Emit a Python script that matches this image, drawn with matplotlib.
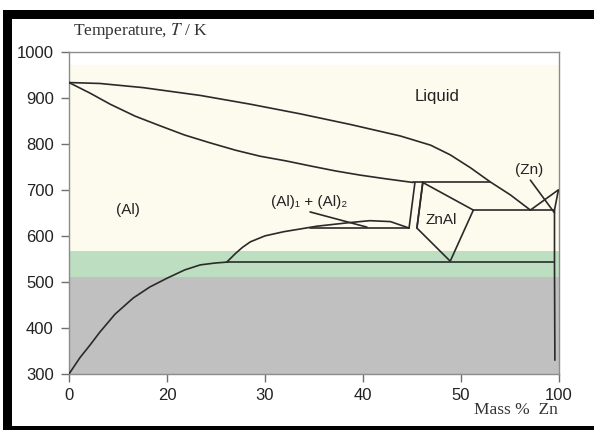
import numpy as np
import matplotlib
matplotlib.use("Agg")
import matplotlib.pyplot as plt
from matplotlib.patches import Rectangle

# ---- data (x in labelled "Mass % Zn" units, y in K) ----
tick_labels = [0, 20, 30, 40, 50, 100]
y_ticks = [300, 400, 500, 600, 700, 800, 900, 1000]

liq_x = [0, 6.3, 15.1, 23.4, 28.5, 33.6, 38.7, 43.8, 46.9, 48.9, 54.8, 65.0, 75.2, 85.4]
liq_y = [933, 931, 922, 905, 886, 865, 842, 817, 797, 776, 748, 717, 689, 656]

sol_x = [0, 4.3, 8.4, 13.5, 18.6, 21.8, 24.4, 27.0, 29.5, 32.1, 34.6, 37.2, 39.7, 42.3, 45.1]
sol_y = [933, 910, 886, 860, 839, 819, 802, 786, 773, 763, 752, 741, 732, 724, 716]

peri_x = [45.1, 65.0]
peri_y = [716, 716]

dbl1_x = [45.3, 44.7]
dbl1_y = [716, 617]
dbl2_x = [46.1, 45.5]
dbl2_y = [716, 617]

znal_x = [46.1, 56.3, 48.9, 45.5]
znal_y = [716, 656, 545, 617]

eut_x = [56.3, 97.7]
eut_y = [656, 656]

znliq_x = [85.4, 99.7, 97.7]
znliq_y = [656, 700, 656]

znptr_x = [85.4, 97.7]
znptr_y = [721, 650]

znsolv_x = [97.7, 97.7, 97.9]
znsolv_y = [656, 543, 330]

mono_x = [26.1, 97.7]
mono_y = [543, 543]

alsolv_x = [0, 2.2, 4.3, 6.3, 9.4, 13.1, 16.5, 20.0, 21.8, 23.4, 24.9, 26.1]
alsolv_y = [300, 335, 363, 391, 430, 465, 489, 508, 526, 537, 541, 543]

dome_x = [26.1, 27.0, 27.7, 28.5, 30.0, 31.9, 33.6, 35.3, 38.7, 40.7, 42.8, 44.7]
dome_y = [543, 562, 575, 587, 600, 609, 615, 621, 629, 633, 631, 617]

domeh_x = [34.6, 44.7]
domeh_y = [617, 617]

ptr_x = [34.6, 40.4]
ptr_y = [652, 619]

bands = [(300, 510, '#c0c0c0'), (510, 567, '#bddec1'), (567, 971, '#fdfaee')]

# ---- scale: ticks equally spaced ----
idx = np.arange(len(tick_labels), dtype=float)
lab = np.array(tick_labels, dtype=float)
def fwd(x):
    return np.interp(x, lab, idx)
def inv(u):
    return np.interp(u, idx, lab)

W, H = 594, 430
fig = plt.figure(figsize=(W/100, H/100), dpi=100)
ax = fig.add_axes([69/W, 1-374/H, (559-69)/W, (374-51.7)/H])
ax.set_xscale('function', functions=(fwd, inv))
ax.set_xlim(0, 100)
ax.set_ylim(300, 1000)

for lo, hi, c in bands:
    ax.axhspan(lo, hi, color=c, lw=0, zorder=0)

lc = '#2a2a2a'
lw = 1.2
for xs, ys in [(liq_x, liq_y), (sol_x, sol_y), (peri_x, peri_y), (dbl1_x, dbl1_y),
               (dbl2_x, dbl2_y), (eut_x, eut_y), (znliq_x, znliq_y), (znptr_x, znptr_y),
               (znsolv_x, znsolv_y), (mono_x, mono_y), (alsolv_x, alsolv_y),
               (dome_x, dome_y), (domeh_x, domeh_y), (ptr_x, ptr_y)]:
    ax.plot(xs, ys, color=lc, lw=lw, solid_capstyle='round', solid_joinstyle='round', zorder=3)
ax.plot(znal_x + [znal_x[0]], znal_y + [znal_y[0]], color=lc, lw=lw, zorder=3)

ax.set_xticks(tick_labels)
ax.set_xticklabels([str(t) for t in tick_labels])
ax.set_yticks(y_ticks)
ax.set_yticklabels([str(t) for t in y_ticks])
for s in ax.spines.values():
    s.set_color('#8c8c8c')
    s.set_linewidth(1.0)
ax.tick_params(axis='both', colors='#707070', labelcolor='#222222', labelsize=12,
               length=6, width=1.0, direction='out')
ax.tick_params(axis='y', pad=5)
ax.tick_params(axis='x', pad=4)
for t in ax.get_xticklabels() + ax.get_yticklabels():
    t.set_family('Liberation Sans')

sans = ['Liberation Sans', 'DejaVu Sans']
fig.text(437/W, 1-97/H, 'Liquid', ha='center', va='center', fontsize=12, family=sans, color='#222')
fig.text(128/W, 1-210/H, '(Al)', ha='center', va='center', fontsize=11, family=sans, color='#222')
fig.text(309/W, 1-202/H, '(Al)₁ + (Al)₂', ha='center', va='center', fontsize=11, family=sans, color='#222')
fig.text(441/W, 1-220/H, 'ZnAl', ha='center', va='center', fontsize=11, family=sans, color='#222')
fig.text(529/W, 1-170/H, '(Zn)', ha='center', va='center', fontsize=11, family=sans, color='#222')
fig.text(73/W, 1-31/H, 'Temperature, $T$ / K', ha='left', va='center', fontsize=12.5,
         family='Liberation Serif', color='#333', math_fontfamily='stix')
fig.text(558/W, 1-410/H, 'Mass %  Zn', ha='right', va='center', fontsize=12.5,
         family='Liberation Serif', color='#333')

# black frame pieces
for x0, y0, w, h in [(3, 10, 9, 420), (3, 10, 591, 9), (3, 426, 591, 4)]:
    fig.add_artist(Rectangle((x0/W, 1-(y0+h)/H), w/W, h/H, transform=fig.transFigure,
                             color='black', lw=0, zorder=10))

fig.savefig('out.png', dpi=100)
